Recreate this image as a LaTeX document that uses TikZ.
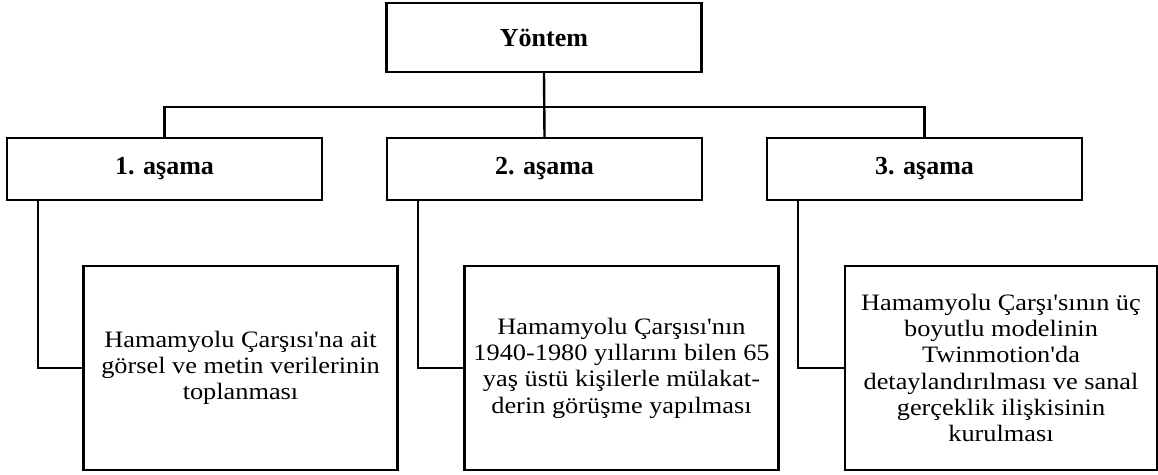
\documentclass[tikz,border=0pt]{standalone}
\usepackage{fontspec}
\setmainfont{Liberation Serif}
\newfontfamily\widerserif{Liberation Serif}[FakeStretch=1.12]

\begin{document}
\begin{tikzpicture}[x=1pt,y=-1pt,
	every path/.style={line width=2.4pt},
	head/.style={draw,line width=2.4pt,minimum width=315pt,minimum height=62pt,inner sep=0pt,
		font=\fontsize{26}{30}\selectfont\bfseries},
	detail/.style={draw,line width=2.4pt,minimum width=314pt,minimum height=204pt,inner sep=0pt,
		align=center,font=\widerserif\fontsize{23.5}{26.3}\selectfont}]
	\useasboundingbox (0,0) rectangle (1158,474);
	\node[head,minimum height=69pt] (yontem) at (544,37.5) {Yöntem};
	\node[head] (s1) at (164.5,169) {1. aşama};
	\node[head] (s2) at (544.5,169) {2. aşama};
	\node[head] (s3) at (924.5,169) {3. aşama};
	\node[detail] (d1) at (240.5,368) {Hamamyolu Çarşısı'na ait\\görsel ve metin verilerinin\\toplanması};
	\node[detail] (d2) at (621.5,368) {Hamamyolu Çarşısı'nın\\1940-1980 yıllarını bilen 65\\yaş üstü kişilerle mülakat-\\derin görüşme yapılması};
	\node[detail,minimum width=312pt] (d3) at (1001,368) {Hamamyolu Çarşı'sının üç\\boyutlu modelinin\\Twinmotion'da\\detaylandırılması ve sanal\\gerçeklik ilişkisinin\\kurulması};
	\coordinate (bar) at (544,107);
	\draw (yontem.south) -- (s2.north);
	\draw (s1.north) |- (bar) -| (s3.north);
	\foreach \i in {1,2,3}
		\draw ([xshift=32pt]s\i.south west) |- (d\i.west);
\end{tikzpicture}
\end{document}
